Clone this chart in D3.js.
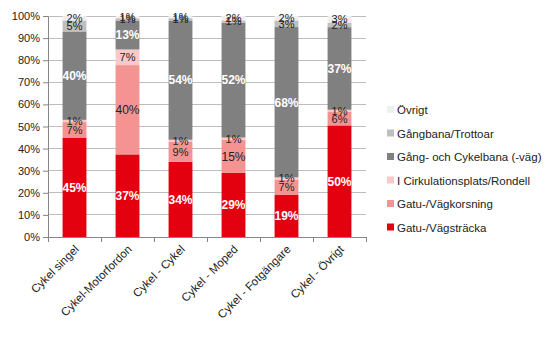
<!DOCTYPE html>
<html>
<head>
<meta charset="utf-8">
<script src="https://cdn.jsdelivr.net/npm/d3@7"></script>
<style>
  body { margin: 0; background: #fff; }
  svg { display: block; font-family: "Liberation Sans", Arial, sans-serif; }
</style>
</head>
<body>
<svg id="chart" width="547" height="339"></svg>
<script>
// Collision types (x categories)
const categories = ["Cykel singel", "Cykel-Motorfordon", "Cykel - Cykel", "Cykel - Moped", "Cykel - Fotgängare", "Cykel - Övrigt"];

// Location series, stacked bottom to top (percent)
const seriesNames = ["Gatu-/Vägsträcka", "Gatu-/Vägkorsning", "I Cirkulationsplats/Rondell", "Gång- och Cykelbana (-väg)", "Gångbana/Trottoar", "Övrigt"];
const vagstracka   = [45, 37, 34, 29, 19, 50];
const vagkorsning  = [7, 40, 9, 15, 7, 6];
const rondell      = [1, 7, 1, 1, 1, 1];
const cykelbana    = [40, 13, 54, 52, 68, 37];
const trottoar     = [5, 1, 1, 1, 3, 2];
const ovrigt       = [2, 1, 1, 2, 2, 3];

const yTicks = [0, 10, 20, 30, 40, 50, 60, 70, 80, 90, 100];

const colors = ["#e3000f", "#f59393", "#f9c9c9", "#808080", "#bfbfbf", "#efefef"];
const labelColors = ["#fff", "#222", "#222", "#fff", "#222", "#222"];

const svg = d3.select("#chart");
const margin = { left: 48, right: 181, top: 16, bottom: 102 };
const W = 547, H = 339;

const x = d3.scaleBand().domain(categories).range([margin.left, W - margin.right]).paddingInner(0.55).paddingOuter(0.275);
const y = d3.scaleLinear().domain([0, 100]).range([H - margin.bottom, margin.top]);

// Gridlines
svg.append("g")
  .selectAll("line").data(yTicks.slice(1)).join("line")
  .attr("x1", margin.left).attr("x2", W - margin.right)
  .attr("y1", d => y(d)).attr("y2", d => y(d))
  .attr("stroke", "#bdbdbd").attr("stroke-width", 1)
  .attr("shape-rendering", "crispEdges");

// Stacked data, normalised per category
const values = [vagstracka, vagkorsning, rondell, cykelbana, trottoar, ovrigt];
const rows = categories.map((c, i) => {
  const r = { cat: c };
  const total = d3.sum(values, v => v[i]);
  seriesNames.forEach((s, k) => { r[s] = values[k][i] / total * 100; r["raw_" + s] = values[k][i]; });
  return r;
});
const stack = d3.stack().keys(seriesNames)(rows);

const gBars = svg.append("g");
stack.forEach((layer, k) => {
  gBars.append("g").attr("fill", colors[k])
    .selectAll("rect").data(layer).join("rect")
    .attr("x", d => x(d.data.cat))
    .attr("width", x.bandwidth())
    .attr("y", d => y(d[1]))
    .attr("height", d => y(d[0]) - y(d[1]));
});

// Value labels
stack.forEach((layer, k) => {
  gBars.append("g")
    .selectAll("text").data(layer).join("text")
    .attr("x", d => x(d.data.cat) + x.bandwidth() / 2)
    .attr("y", d => (y(d[0]) + y(d[1])) / 2)
    .attr("dy", "0.36em")
    .attr("text-anchor", "middle")
    .attr("font-size", d => d.data["raw_" + layer.key] >= 10 ? 12 : 11)
    .attr("font-weight", (d) => (k === 0 || k === 3) ? "bold" : "normal")
    .attr("fill", labelColors[k])
    .text(d => d.data["raw_" + layer.key] + "%");
});

// Y axis
const yAxis = svg.append("g").attr("transform", `translate(${margin.left},0)`)
  .call(d3.axisLeft(y).tickValues(yTicks).tickFormat(d => d + "%").tickSize(5).tickSizeOuter(0));
yAxis.select(".domain").attr("stroke", "#868686");
yAxis.selectAll(".tick line").attr("stroke", "#868686");
yAxis.selectAll("text").attr("font-size", 11).attr("fill", "#222").attr("x", -8);

// X axis
const xAxis = svg.append("g").attr("transform", `translate(0,${H - margin.bottom})`);
xAxis.append("line").attr("x1", margin.left).attr("x2", W - margin.right)
  .attr("stroke", "#868686").attr("shape-rendering", "crispEdges");
const step = x.step();
const tickXs = d3.range(categories.length + 1).map(i => margin.left + i * step);
xAxis.selectAll("line.t").data(tickXs).join("line").attr("class", "t")
  .attr("x1", d => d).attr("x2", d => d).attr("y1", 0).attr("y2", 5)
  .attr("stroke", "#868686").attr("shape-rendering", "crispEdges");
xAxis.selectAll("text").data(categories).join("text")
  .attr("transform", d => `translate(${x(d) + x.bandwidth() / 2 + 5},${13}) rotate(-45)`)
  .attr("text-anchor", "end")
  .attr("font-size", 11.5)
  .attr("fill", "#222")
  .text(d => d);

// Legend, top entry is the last series
const legend = svg.append("g").attr("transform", "translate(387,110)");
const legendOrder = seriesNames.map((s, k) => ({ s, k })).reverse();
legend.selectAll("g").data(legendOrder).join("g")
  .attr("transform", (d, i) => `translate(0,${i * 23.5})`)
  .each(function (d) {
    const g = d3.select(this);
    g.append("rect").attr("x", 0).attr("y", -4).attr("width", 7).attr("height", 7).attr("fill", colors[d.k]);
    g.append("text").attr("x", 10).attr("y", 0).attr("dy", "0.35em")
      .attr("font-size", 11.5).attr("fill", "#222").text(d.s);
  });
</script>
</body>
</html>
